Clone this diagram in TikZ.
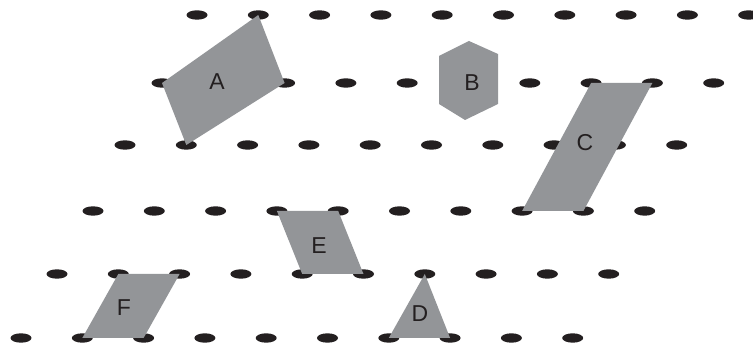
\documentclass[tikz,border=0pt]{standalone}
\usepackage{fontspec}
\setmainfont{Liberation Sans}
\usetikzlibrary{shapes.geometric}
\definecolor{shapegray}{HTML}{939598}
\definecolor{dotblack}{HTML}{231F20}
\begin{document}
\begin{tikzpicture}[x=1pt,y=-1pt,
  dot/.style={ellipse, fill=dotblack, inner sep=0pt, minimum width=21pt, minimum height=9.4pt},
  tile/.style={fill=shapegray},
  lbl/.style={font=\fontsize{23}{23}\selectfont, text=dotblack, inner sep=0pt}]
\useasboundingbox (0,0) rectangle (753,347);
\foreach \r/\xo/\yy in {1/197/15, 2/162/83, 3/125/145, 4/93/211, 5/57/274, 6/21/338} {
  \foreach \i in {0,...,9} {
    \node[dot] (d-\r-\i) at ({\xo+61.3*\i},\yy) {};
  }
}
% A
\fill[tile] (d-1-1.center) -- (d-2-2.center) -- (d-3-1.center) -- (d-2-0.center) -- cycle;
% B
\fill[tile] (469,41) -- (498,54) -- (498,104) -- (465,120) -- (439,104) -- (439,56) -- cycle;
% C
\fill[tile] (d-2-7.center) -- (d-2-8.center) -- (d-4-8.center) -- (d-4-7.center) -- cycle;
% D
\fill[tile] (d-5-6.center) -- (d-6-7.center) -- (d-6-6.center) -- cycle;
% E
\fill[tile] (d-4-3.center) -- (d-4-4.center) -- (d-5-5.center) -- (d-5-4.center) -- cycle;
% F
\fill[tile] (d-5-1.center) -- (d-5-2.center) -- (d-6-2.center) -- (d-6-1.center) -- cycle;
\node[lbl] (lA) at (217,82) {A};
\node[lbl] (lB) at (472,83) {B};
\node[lbl] (lC) at (585,143) {C};
\node[lbl] (lD) at (420,314) {D};
\node[lbl] (lE) at (319,246) {E};
\node[lbl] (lF) at (124,308) {F};
\end{tikzpicture}
\end{document}
